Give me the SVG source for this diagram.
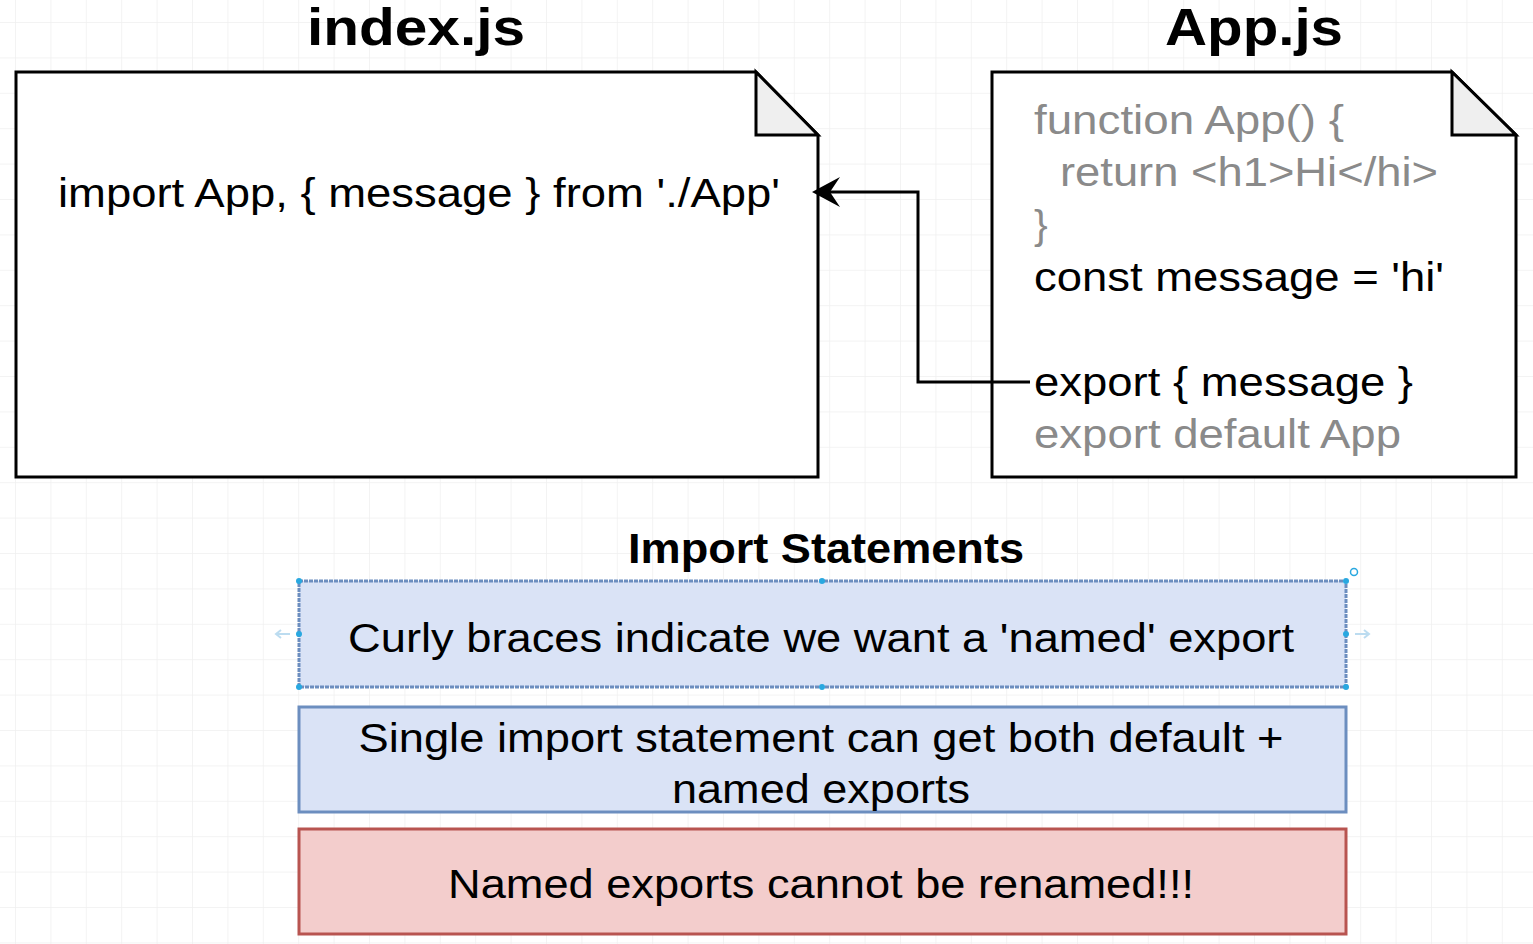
<svg xmlns="http://www.w3.org/2000/svg" width="1533" height="944" viewBox="0 0 1533 944">
<defs>
<pattern id="grid" x="15" y="22" width="35.4" height="35.4" patternUnits="userSpaceOnUse">
<path d="M0 0 H35.4 M0 0 V35.4" fill="none" stroke="#f0f0f0" stroke-width="1.5"/>
</pattern>
<marker id="arr" markerWidth="30" markerHeight="32" refX="18" refY="16" orient="auto" markerUnits="userSpaceOnUse" viewBox="0 0 30 32">
<path d="M1 1 L29 16 L1 31 L11 16 Z" fill="#000"/>
</marker>
</defs>
<style>
text{font-family:"Liberation Sans",Arial,sans-serif;}
.title{font-size:52px;font-weight:bold;fill:#000;text-anchor:middle;}
.code{font-size:41px;fill:#000;}
.gray{fill:#8a8a8a;}
.doc{fill:#fff;stroke:#000;stroke-width:3;}
.fold{fill:#efefef;stroke:#000;stroke-width:3;stroke-linejoin:miter;}
.blue{fill:#dae3f6;stroke:#6c8ebf;stroke-width:3;}
.red{fill:#f3cdcc;stroke:#b85450;stroke-width:3;}
.lbl{font-size:41px;fill:#000;text-anchor:middle;}
.h{fill:#29a8e0;}
</style>
<rect width="1533" height="944" fill="#fff"/>
<rect width="1533" height="944" fill="url(#grid)"/>
<g id="index-title"><text class="title" x="416" y="45" textLength="218" lengthAdjust="spacingAndGlyphs">index.js</text></g>
<g id="app-title"><text class="title" x="1254" y="45" textLength="178" lengthAdjust="spacingAndGlyphs">App.js</text></g>
<g id="index-doc">
<path class="doc" d="M16 72 H756 L818 135 V477 H16 Z"/>
<path class="fold" d="M756 72 L818 135 H756 Z"/>
<text class="code" x="58" y="207" textLength="722" lengthAdjust="spacingAndGlyphs">import App, { message } from './App'</text>
</g>
<g id="app-doc">
<path class="doc" d="M992 72 H1452 L1516 135 V477 H992 Z"/>
<path class="fold" d="M1452 72 L1516 135 H1452 Z"/>
<text class="code gray" x="1034" y="134" textLength="310" lengthAdjust="spacingAndGlyphs">function App() {</text>
<text class="code gray" x="1060" y="186" textLength="378" lengthAdjust="spacingAndGlyphs">return &lt;h1&gt;Hi&lt;/hi&gt;</text>
<text class="code gray" x="1034" y="239">}</text>
<text class="code" x="1034" y="291" textLength="410" lengthAdjust="spacingAndGlyphs">const message = 'hi'</text>
<text class="code" x="1034" y="396" textLength="379" lengthAdjust="spacingAndGlyphs">export { message }</text>
<text class="code gray" x="1034" y="448" textLength="367" lengthAdjust="spacingAndGlyphs">export default App</text>
</g>
<g id="connectors">
<path d="M1030 382 H918 V192 H823" fill="none" stroke="#000" stroke-width="3" marker-end="url(#arr)"/>
</g>
<g id="import-title"><text x="826" y="563" textLength="396" lengthAdjust="spacingAndGlyphs" style="font-size:42px;font-weight:bold;text-anchor:middle">Import Statements</text></g>
<g id="box-curly">
<rect class="blue" x="299" y="581" width="1047" height="106" stroke-dasharray="4 1"/>
<text class="lbl" x="821" y="652" textLength="946" lengthAdjust="spacingAndGlyphs">Curly braces indicate we want a 'named' export</text>
<g class="h">
<circle cx="299" cy="581" r="3"/><circle cx="822" cy="581" r="3"/><circle cx="1346" cy="581" r="3"/>
<circle cx="299" cy="634" r="3"/><circle cx="1346" cy="634" r="3"/>
<circle cx="299" cy="687" r="3"/><circle cx="822" cy="687" r="3"/><circle cx="1346" cy="687" r="3"/>
</g>
<circle cx="1354" cy="572" r="3.5" fill="none" stroke="#29a8e0" stroke-width="1.5"/>
<path d="M290 634 H276 M281 630 L276 634 L281 638" fill="none" stroke="#bcdcf0" stroke-width="2"/>
<path d="M1355 634 H1369 M1364 630 L1369 634 L1364 638" fill="none" stroke="#bcdcf0" stroke-width="2"/>
</g>
<g id="box-single">
<rect class="blue" x="299" y="707" width="1047" height="105"/>
<text class="lbl" x="821" y="752" textLength="925" lengthAdjust="spacingAndGlyphs">Single import statement can get both default +</text>
<text class="lbl" x="821" y="803" textLength="298" lengthAdjust="spacingAndGlyphs">named exports</text>
</g>
<g id="box-named">
<rect class="red" x="299" y="829" width="1047" height="105"/>
<text class="lbl" x="821" y="898" textLength="746" lengthAdjust="spacingAndGlyphs">Named exports cannot be renamed!!!</text>
</g>
</svg>
